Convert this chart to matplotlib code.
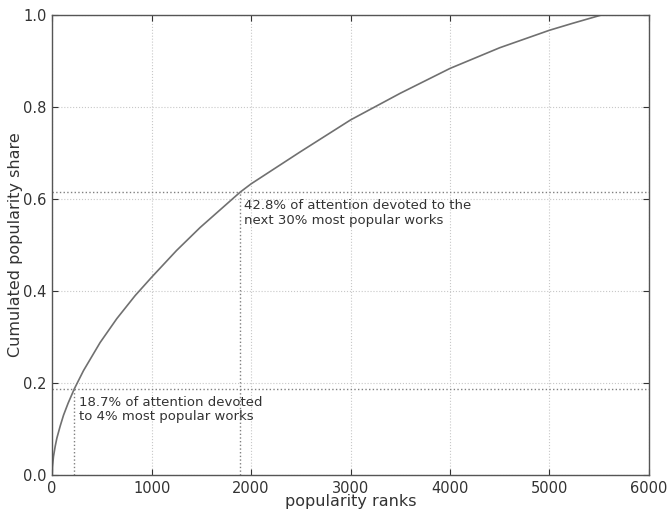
import matplotlib
matplotlib.use('Agg')
import matplotlib.pyplot as plt

# points (rank, cumulated share)
ranks = [0, 3, 13, 30, 47, 80, 114, 160, 222, 315, 482, 650, 834, 1000,
         1250, 1487, 1890, 2000, 2490, 3000, 3500, 4000, 4500, 5000, 5231, 5520]
share = [0.0, 0.018, 0.040, 0.062, 0.080, 0.106, 0.130, 0.156, 0.187, 0.227,
         0.288, 0.340, 0.390, 0.430, 0.488, 0.538, 0.615, 0.633, 0.702, 0.772,
         0.830, 0.884, 0.929, 0.967, 0.982, 1.0]

# marked thresholds
mark_x = [222, 1890]
mark_y = [0.187, 0.615]
notes = ['18.7% of attention devoted\nto 4% most popular works',
         '42.8% of attention devoted to the\nnext 30% most popular works']
note_pos = [(265, 0.172), (1925, 0.600)]

plt.rcParams['font.family'] = ['DejaVu Sans']
fig = plt.figure(figsize=(6.69, 5.11), dpi=100)
ax = fig.add_axes([0.078, 0.0705, 0.892, 0.9])

ax.plot(ranks, share, color='#707070', lw=1.2)

for mx, my in zip(mark_x, mark_y):
    ax.axhline(my, color='#808080', ls=':', lw=1.0)
    ax.plot([mx, mx], [0, my], color='#808080', ls=':', lw=1.0)

for txt, (tx, ty) in zip(notes, note_pos):
    ax.text(tx, ty, txt, fontsize=9.5, color='#333333', va='top', ha='left',
            linespacing=1.15)

ax.set_xlim(0, 6000)
ax.set_ylim(0, 1.0)
ax.set_xticks(range(0, 6001, 1000))
ax.set_yticks([0.0, 0.2, 0.4, 0.6, 0.8, 1.0])
ax.set_yticklabels(['0.0', '0.2', '0.4', '0.6', '0.8', '1.0'])
ax.grid(True, color='#c8c8c8', ls=':', lw=0.8)
ax.tick_params(direction='in', top=True, right=True, labelsize=10.5,
               colors='#333333', length=4, pad=4)
for s in ax.spines.values():
    s.set_color('#555555')
    s.set_linewidth(1.0)

ax.set_xlabel('popularity ranks', fontsize=11.5, color='#333333', labelpad=-1)
ax.set_ylabel('Cumulated popularity share', fontsize=11.5, color='#333333',
              labelpad=0)

plt.savefig('out.png')
